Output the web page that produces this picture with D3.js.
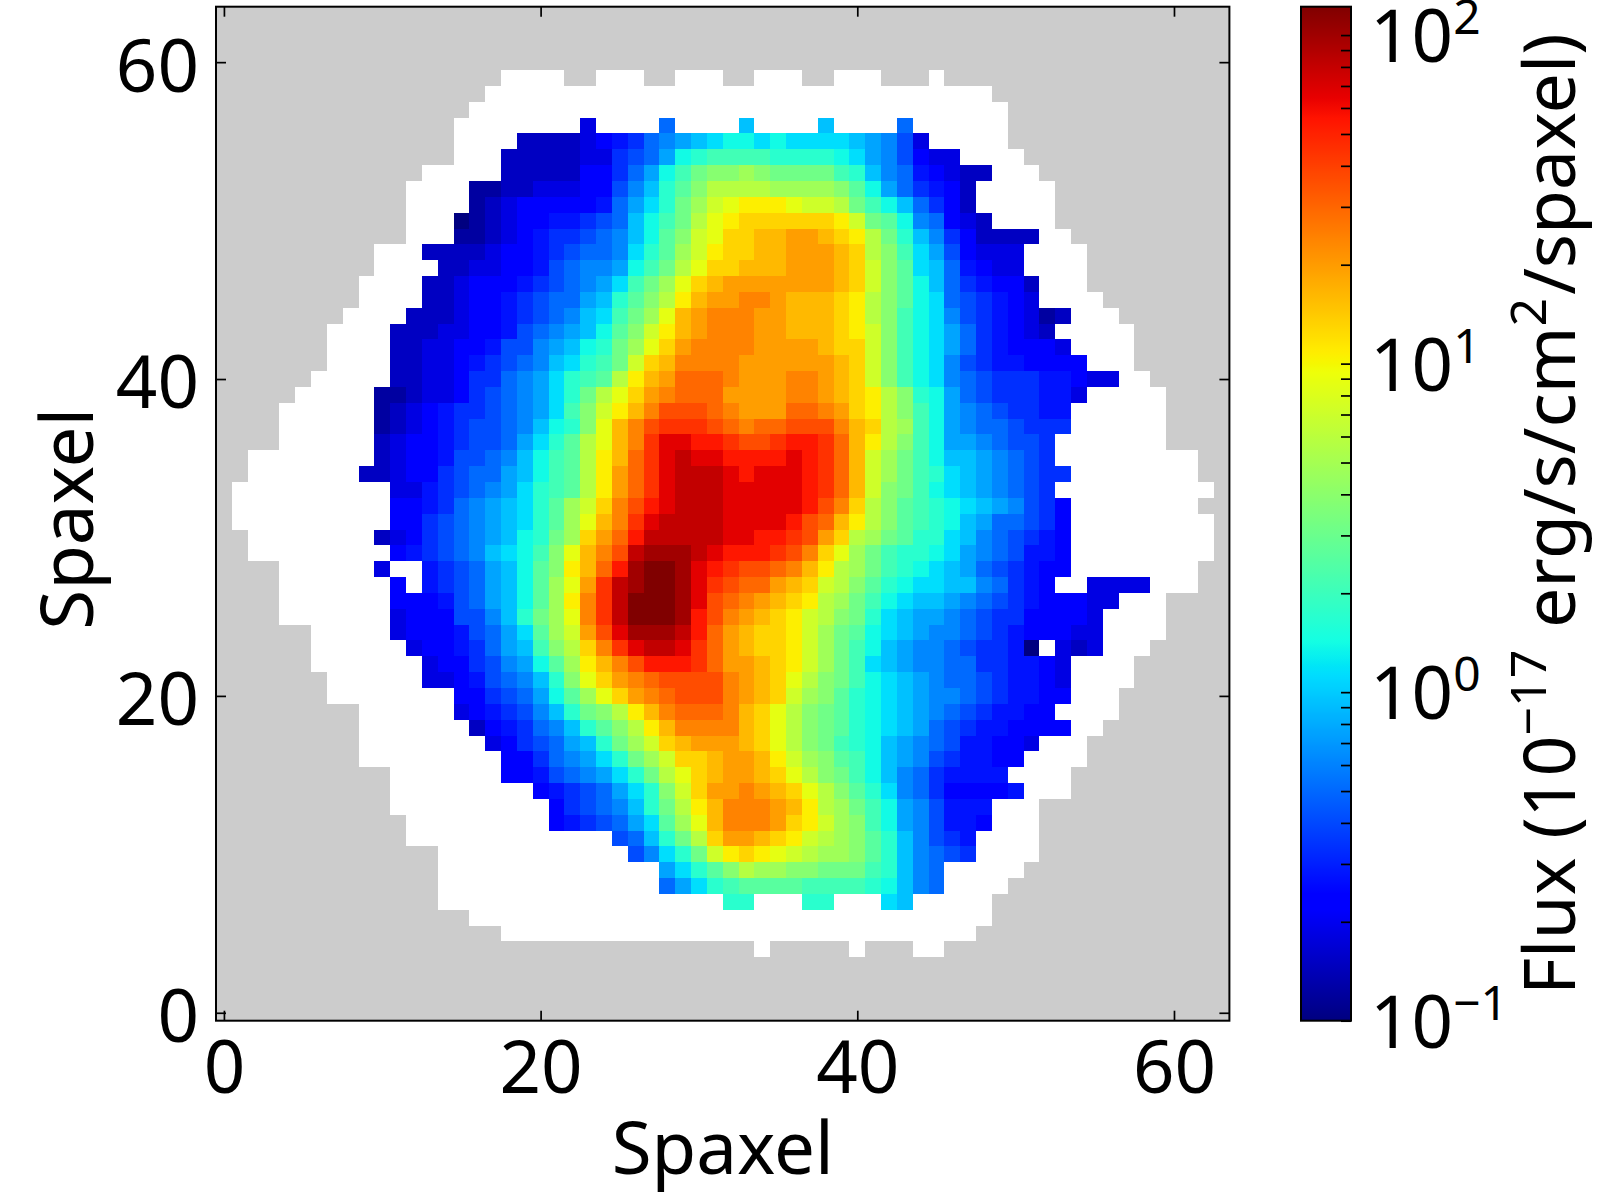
<!DOCTYPE html>
<html>
<head>
<meta charset="utf-8">
<script src="https://cdnjs.cloudflare.com/ajax/libs/d3/7.8.5/d3.min.js"></script>
<style>
  html, body { margin: 0; padding: 0; background: #fff; }
  svg { display: block; }
  text { font-family: "Noto Sans", sans-serif; fill: #000; }
</style>
</head>
<body>
<svg id="chart" width="1600" height="1200"></svg>
<script>
// Axis ticks
const xTicks = [0, 20, 40, 60];
const yTicks = [0, 20, 40, 60];
const cbarDecades = [-1, 0, 1, 2];
const cbarMinor = [0.2, 0.3, 0.4, 0.5, 0.6, 0.7, 0.8, 0.9, 2, 3, 4, 5, 6, 7, 8, 9, 20, 30, 40, 50, 60, 70, 80, 90];
const fluxRange = [0.1, 122];

// Observed footprint per row: [row, first spaxel, last spaxel]
const footprint = [
  [58,17,48],[57,16,49],[56,15,49],[55,15,49],[54,15,50],[53,13,51],[52,12,52],[51,12,52],[50,12,52],
  [49,12,53],[48,10,54],[47,10,54],[46,9,54],[45,9,55],[44,8,56],[43,7,57],[42,7,57],[41,7,57],
  [40,6,58],[39,5,59],[38,4,59],[37,4,59],[36,4,59],[35,2,61],[34,2,61],[33,1,62],[32,1,61],[31,1,62],
  [30,2,62],[29,2,62],[28,4,61],[27,4,61],[26,4,59],[25,4,59],[24,6,59],[23,6,58],[22,6,57],[21,7,57],
  [20,7,56],[19,9,56],[18,9,55],[17,9,54],[16,9,54],[15,11,53],[14,11,53],[13,11,51],[12,12,51],
  [11,12,51],[10,14,51],[9,14,50],[8,14,49],[7,14,48],[6,16,48],[5,18,47]
];
// Isolated footprint spaxels along the ragged top and bottom rows
const raggedTop = [18,19,20,21,24,25,26,29,30,31,34,35,36,39,40,41,45];
const raggedBottom = [34,40,44,45];

// Flux per row: [row, first spaxel, levels]; each character is a step on the
// logarithmic flux scale from levelKey, and '.' marks a spaxel with no measurement
const levelKey = "0123456789abcdefghijklmnopqrstuvwxyz";
const fluxRows = [
  [56,23,"3"],[56,28,"8"],[56,33,"b"],[56,38,"b"],[56,43,"8"],
  [55,19,"22223 456 89abc ddcd cccc ba97 3"],
  [54,18,"222223 3678 adef fffe eeed ca97 4 33"],
  [53,18,"222224 468a dfhi ijih hhhf eb98 5 4322"],
  [52,16,"11223334 479b egik kkkj jjji gda8 6 542"],
  [51,16,"12344444 58ac ehjl mnnn mllk hfdb 8 642"],
  [50,15,"012344556 78bd fhkm nooo ooon lhgd 9 8432"],
  [49,15,"112345667 89bd gilm oopp qqpo nkhe b 9642222"],
  [48,13,"22223445678 89ce gjln oopp qqqp okif c a74333"],
  [47,14,"2233445789 9adf hkmo oppp qqqp olig c b85433"],
  [46,13,"22344456789 acfh jmop qqqq qqqp olig d b865442"],
  [45,13,"2234456788a begi knpq qrrq pppo nkig d c876543"],
  [44,12,"22234456789b cfhj mpqr rrqq pppo nkif d c97654312"],
  [43,11,"22233445789ab dgil npqr rrqq pppo nlif d ca865432"],
  [42,11,"2233445779abd ehjm oqrr rrqq qqpo olif d ca8654443"],
  [41,11,"2233456789bce fhlo prrr rqqq qqqp olif d c976554444"],
  [40,11,"2233 4668 9ace f gknp qsss rqqq rrqp olif d c98766655433"],
  [39,10,"1123346789ace hkmo qrss sqqq qrrq ponk ieda 8766 6553"],
  [38,10,"123456678 9acf ilnp rttt srqq qssr qonk ifda 9876 655"],
  [37,10,"123456778 9bde impr tuuu tsrs sttt rpok jfda 9887 666"],
  [36,10,"2344 5677 8ace g kmpr uwwv vutt uvvu spnk ifda a987 76"],
  [35,10,"2344 5778 9bdf g knps uwxw wvvv vwvu splj hfdb ba98 76"],
  [34,9,"2234467 88abdfg knqs uwxx xwvw wwvu splj hfec ba98 766"],
  [33,11,"3356789acefg knqs uwxx xwww wwvu spli hfdc ba98 76"],
  [32,11,"445689abcegj lort vwxx xwww wwvt roki gfed cba9 764"],
  [31,11,"4467 89ab cegj mpru wxxx xwww wvts pnki gfed ba88 764"],
  [30,10,"2346 789a bdeh j oqsv xxxx xwwv vutq okjh geec b987 654"],
  [29,11,"456 789b cdfi mprt xyyy xwvv vutr omjh feed ca98 7554"],
  [28,10,"3 .. 5 678a bdgi npsv yzzy wvut tsrp nkjh fedc ba87 6544"],
  [27,11,"4 . 5 678a bdgj mqux yzzy wuts sqpo lkig edcc bb98 654 .. 3333"],
  [26,11,"444 578a bdgj nrux zzzy wtsr qpon kjhf dcbb a987 6544 433"],
  [25,11,"344 4779 behj mrux zzzy vtrq ponl kihe cbaa 9876 6444 43"],
  [24,11,"344 4578 acgj lqtw yyyx vsqp oonl jhgd cba9 9876 5444 33"],
  [23,12,"34 4568 abfi koru wxxw usqp oonl jhfd ba99 8766 50 . 323"],
  [22,13,"3 4467 9adg jnpr tvvv usqq ponl jhfc ba99 8866 5543"],
  [21,13,"334578 9bei moqr sttt trqp omki hfdc ba98 8765 543"],
  [20,15,"4467 8adg jmoq rstt trqp olji gedc ba99 8765 544"],
  [19,15,"3456 79be hikn prss srpo mkih gedc ba98 7655 44"],
  [18,16,"245 689b egik nprr rrpo mkih gedc ba87 6554 444"],
  [17,17,"34 678a behj lopq qqpo mkih fedb a987 55443"],
  [16,18,"4 4689 aceh jloo pqqp nlji gfdb a976 5544"],
  [15,18,"4 4578 9ace hkmo pqqp omki hfdb 9865 555"],
  [14,20,"456 78ac eilo qqrq pomk igec 9864 4445"],
  [13,21,"46 789b ehkn prrr qpnk jhfd a975 55"],
  [12,21,"45 678a cgjm prrr qonl jifd a975 54"],
  [11,25,"78be hkoq qpon lkji geb9 765"],
  [10,26,"79ce hlno nmlk jjig eb98 76"],
  [9,28,"aceg ikjj iihh hfeb 98"],
  [8,28,"8ace fggg gfff fedb 98"],
  [7,32,"ee"],[7,37,"ee"],[7,42,"cb"]
];

const svg = d3.select("#chart");
const frame = { left: 216, right: 1229.4, top: 6.7, bottom: 1020.7 };
const cbar = { left: 1301, right: 1351, top: 6.7, bottom: 1020.7 };
const fontSize = 72.7;
const cbarLabelSize = 71.5;
const supScale = 0.66;

const x = d3.scaleLinear().domain([-0.5, 63.5]).range([frame.left, frame.right]);
const y = d3.scaleLinear().domain([-0.5, 63.5]).range([frame.bottom, frame.top]);

// Jet colormap, one piecewise-linear ramp per channel
const red = d3.scaleLinear().domain([0, 0.35, 0.66, 0.89, 1]).range([0, 0, 1, 1, 0.5]);
const green = d3.scaleLinear().domain([0, 0.125, 0.375, 0.64, 0.91, 1]).range([0, 0, 1, 1, 0, 0]);
const blue = d3.scaleLinear().domain([0, 0.11, 0.34, 0.65, 1]).range([0.5, 1, 1, 0, 0]);
const jet = t => d3.rgb(255 * red(t), 255 * green(t), 255 * blue(t)).formatHex();

const logFlux = d3.scaleLog().domain(fluxRange).range([0, 1]).clamp(true);
const color = v => jet(logFlux(v));
const levelToFlux = ch => logFlux.invert(levelKey.indexOf(ch) / (levelKey.length - 1));

// Decode rows into cells
const whiteCells = [];
footprint.forEach(([row, a, b]) => d3.range(a, b + 1).forEach(col => whiteCells.push({ row, col })));
raggedTop.forEach(col => whiteCells.push({ row: 59, col }));
raggedBottom.forEach(col => whiteCells.push({ row: 4, col }));

const fluxCells = [];
fluxRows.forEach(([row, start, levels]) => {
  Array.from(levels.replace(/ /g, "")).forEach((ch, i) => {
    if (ch !== ".") fluxCells.push({ row, col: start + i, flux: levelToFlux(ch) });
  });
});

// Map
const map = svg.append("g").attr("shape-rendering", "crispEdges");
map.append("rect")
  .attr("x", frame.left).attr("y", frame.top)
  .attr("width", frame.right - frame.left).attr("height", frame.bottom - frame.top)
  .attr("fill", "#cccccc");

const cellAttrs = sel => sel
  .attr("x", d => x(d.col - 0.5))
  .attr("y", d => y(d.row + 0.5))
  .attr("width", d => x(d.col + 0.5) - x(d.col - 0.5))
  .attr("height", d => y(d.row - 0.5) - y(d.row + 0.5));

map.append("g").selectAll("rect").data(whiteCells).join("rect").call(cellAttrs).attr("fill", "#fff");
map.append("g").selectAll("rect").data(fluxCells).join("rect").call(cellAttrs).attr("fill", d => color(d.flux));

// Axes: ticks point into the frame on all four sides
const tickLen = 10;
const styleAxis = g => {
  g.select(".domain").remove();
  g.selectAll(".tick line").attr("stroke", "#000").attr("stroke-width", 1.7);
  g.selectAll(".tick text").attr("font-size", fontSize).attr("font-family", "Noto Sans");
};

svg.append("g").attr("transform", `translate(0,${frame.bottom})`)
  .call(d3.axisBottom(x).tickValues(xTicks).tickSize(-tickLen).tickPadding(20.5))
  .call(styleAxis);
svg.append("g").attr("transform", `translate(0,${frame.top})`)
  .call(d3.axisTop(x).tickValues(xTicks).tickSize(-tickLen).tickFormat(""))
  .call(styleAxis);
svg.append("g").attr("transform", `translate(${frame.left},0)`)
  .call(d3.axisLeft(y).tickValues(yTicks).tickSize(-tickLen).tickPadding(17))
  .call(styleAxis)
  .call(g => g.selectAll(".tick text").attr("dy", "0.397em"));
svg.append("g").attr("transform", `translate(${frame.right},0)`)
  .call(d3.axisRight(y).tickValues(yTicks).tickSize(-tickLen).tickFormat(""))
  .call(styleAxis);

svg.append("rect")
  .attr("x", frame.left).attr("y", frame.top)
  .attr("width", frame.right - frame.left).attr("height", frame.bottom - frame.top)
  .attr("fill", "none").attr("stroke", "#000").attr("stroke-width", 2);

svg.append("text")
  .attr("x", (frame.left + frame.right) / 2).attr("y", 1174)
  .attr("text-anchor", "middle").attr("font-size", fontSize).text("Spaxel");
svg.append("text")
  .attr("transform", `translate(93,${(frame.top + frame.bottom) / 2 + 5}) rotate(-90)`)
  .attr("text-anchor", "middle").attr("font-size", fontSize).text("Spaxel");

// Colorbar
const cy = d3.scaleLog().domain(fluxRange).range([cbar.bottom, cbar.top]);
const grad = svg.append("defs").append("linearGradient")
  .attr("id", "jetRamp").attr("x1", 0).attr("x2", 0).attr("y1", 1).attr("y2", 0);
grad.selectAll("stop").data(d3.range(0, 256)).join("stop")
  .attr("offset", d => d / 255)
  .attr("stop-color", d => jet(d / 255));
svg.append("rect")
  .attr("x", cbar.left).attr("y", cbar.top)
  .attr("width", cbar.right - cbar.left).attr("height", cbar.bottom - cbar.top)
  .attr("fill", "url(#jetRamp)");

const cbarTickValues = cbarMinor.concat(cbarDecades.map(e => Math.pow(10, e)));
svg.append("g").attr("transform", `translate(${cbar.right},0)`)
  .call(d3.axisLeft(cy).tickValues(cbarTickValues).tickSize(tickLen).tickFormat(""))
  .call(styleAxis);
svg.append("rect")
  .attr("x", cbar.left).attr("y", cbar.top)
  .attr("width", cbar.right - cbar.left).attr("height", cbar.bottom - cbar.top)
  .attr("fill", "none").attr("stroke", "#000").attr("stroke-width", 2);

cbarDecades.forEach(e => {
  const t = svg.append("text")
    .attr("x", 1370).attr("y", cy(Math.pow(10, e)) + 27)
    .attr("font-size", fontSize);
  t.append("tspan").text("10");
  t.append("tspan").attr("dy", -28).attr("font-size", fontSize * supScale)
    .text(e < 0 ? "\u2212" + Math.abs(e) : String(e));
});

const label = svg.append("text")
  .attr("transform", "translate(1575,995) rotate(-90)")
  .attr("font-size", cbarLabelSize);
label.append("tspan").text("Flux (10");
label.append("tspan").attr("dy", -29).attr("font-size", cbarLabelSize * 0.7).text("\u221217");
label.append("tspan").attr("dy", 29).attr("dx", 3).text("\u00a0erg/s/cm");
label.append("tspan").attr("dy", -29).attr("font-size", cbarLabelSize * 0.7).text("2");
label.append("tspan").attr("dy", 29).attr("dx", 3).text("/spaxel)");
</script>
</body>
</html>
